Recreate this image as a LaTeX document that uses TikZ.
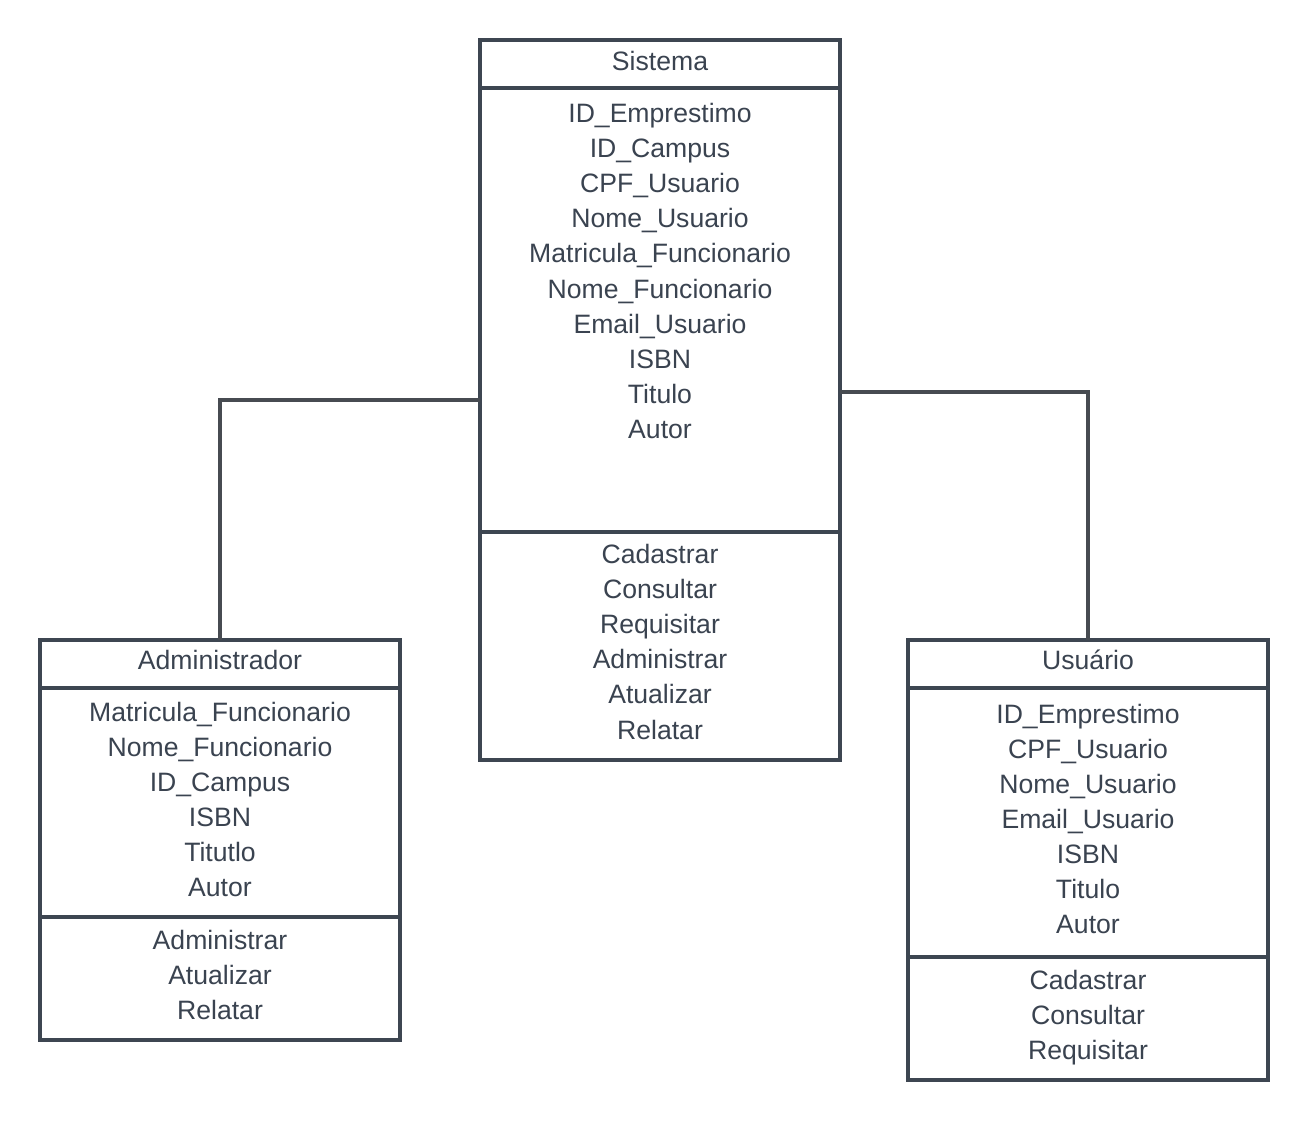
\documentclass[tikz,border=0pt]{standalone}
\usepackage{fontspec}
\setmainfont{Liberation Sans}
\definecolor{boxline}{HTML}{3D4651}
\definecolor{connline}{HTML}{474B51}
\definecolor{txtcol}{HTML}{3A4350}
\begin{document}
\begin{tikzpicture}[x=1pt,y=-1pt,
  comp/.style={draw=boxline, line width=3.5pt, fill=white, rectangle, anchor=north west, minimum width=360pt, inner sep=0pt, outer sep=0pt},
  conn/.style={draw=connline, line width=3.5pt},
  txt/.style={text=txtcol, font=\fontsize{26.6}{30}\selectfont, anchor=base, inner sep=0pt}]
\useasboundingbox (0,0) rectangle (1300,1120);
\fill[white] (0,0) rectangle (1300,1120);
% connectors
\coordinate (jl) at (480,400);
\coordinate (jr) at (840,392);
% Sistema
\node[comp, minimum height=48pt] (sysH) at (480,40) {};
\node[comp, minimum height=444pt] (sysA) at (480,88) {};
\node[comp, minimum height=228pt] (sysM) at (480,532) {};
% Administrador
\node[comp, minimum height=48pt] (admH) at (40,640) {};
\node[comp, minimum height=229pt] (admA) at (40,688) {};
\node[comp, minimum height=123pt] (admM) at (40,917) {};
% Usuario
\node[comp, minimum height=48pt] (usrH) at (908,640) {};
\node[comp, minimum height=269pt] (usrA) at (908,688) {};
\node[comp, minimum height=123pt] (usrM) at (908,957) {};
\draw[conn] (admH.north) |- (jl);
\draw[conn] (jr) -| (usrH.north);
% titles
\node[txt] (sysT) at (660,70) {Sistema};
\node[txt] (admT) at (220,669) {Administrador};
\node[txt] (usrT) at (1088,669) {Usuário};
% Sistema text
\foreach \t [count=\i] in {ID\_Emprestimo, ID\_Campus, CPF\_Usuario, Nome\_Usuario, Matricula\_Funcionario, Nome\_Funcionario, Email\_Usuario, ISBN, Titulo, Autor}
  \node[txt] (sysa\i) at (660, {122+35.2*(\i-1)}) {\t};
\foreach \t [count=\i] in {Cadastrar, Consultar, Requisitar, Administrar, Atualizar, Relatar}
  \node[txt] (sysm\i) at (660, {563+35.2*(\i-1)}) {\t};
% Administrador text
\foreach \t [count=\i] in {Matricula\_Funcionario, Nome\_Funcionario, ID\_Campus, ISBN, Titutlo, Autor}
  \node[txt] (adma\i) at (220, {721+35*(\i-1)}) {\t};
\foreach \t [count=\i] in {Administrar, Atualizar, Relatar}
  \node[txt] (admm\i) at (220, {949+35*(\i-1)}) {\t};
% Usuario text
\foreach \t [count=\i] in {ID\_Emprestimo, CPF\_Usuario, Nome\_Usuario, Email\_Usuario, ISBN, Titulo, Autor}
  \node[txt] (usra\i) at (1088, {723+35*(\i-1)}) {\t};
\foreach \t [count=\i] in {Cadastrar, Consultar, Requisitar}
  \node[txt] (usrm\i) at (1088, {989+35*(\i-1)}) {\t};
\end{tikzpicture}
\end{document}
